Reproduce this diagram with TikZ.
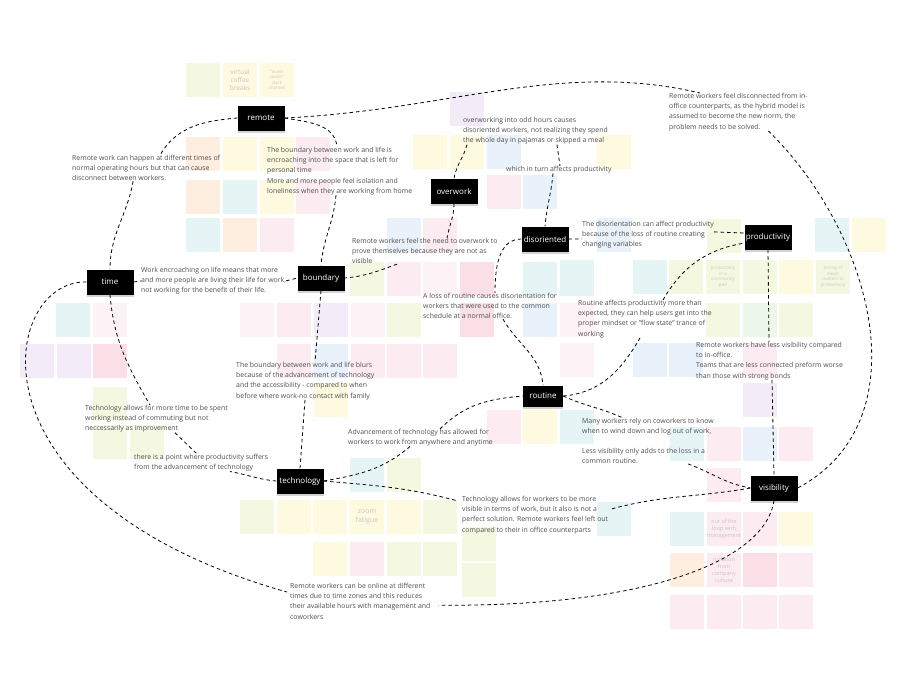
\documentclass[tikz,border=0pt]{standalone}
\usepackage{fontspec}
\setmainfont{Open Sans}
\usetikzlibrary{shadows}

\definecolor{txtgray}{RGB}{80,80,80}
\definecolor{yel}{RGB}{253,248,214}
\definecolor{ylg}{RGB}{241,246,214}
\definecolor{pnk}{RGB}{251,229,236}
\definecolor{pkl}{RGB}{253,238,242}
\definecolor{red}{RGB}{249,214,222}
\definecolor{org}{RGB}{253,232,212}
\definecolor{cyn}{RGB}{221,241,243}
\definecolor{blu}{RGB}{225,236,250}
\definecolor{prp}{RGB}{239,230,245}
\definecolor{grn}{RGB}{229,244,226}

\begin{document}
\begin{tikzpicture}[x=1pt,y=-1pt,
  tag/.style={fill=black,text=white,inner sep=0pt,minimum width=47pt,minimum height=25pt,font=\fontsize{8}{9}\selectfont,drop shadow={opacity=0.35,shadow xshift=0pt,shadow yshift=-2pt}},
  note/.style={anchor=north west,inner sep=0pt,align=left,text=txtgray,font=\fontsize{6.9}{10.2}\selectfont},
  link/.style={dash pattern=on 3.5pt off 3pt,line width=0.8pt},
  stick/.style={text=black!22,align=center,inner sep=0pt,font=\fontsize{4.5}{5.5}\selectfont}]

  \fill[white] (0,0) rectangle (916,686);
  \useasboundingbox (0,0) rectangle (916,686);

  % sticky notes
  \foreach \x/\y/\c in {186/63/ylg,223/63/yel,260/63/yel,
      186/137/org,223/137/yel,260/137/yel,296/137/pnk,186/180/org,223/180/cyn,260/180/yel,296/180/pnk,186/218/cyn,223/218/org,260/218/pnk,
      450/92/prp,413/135/yel,450/135/yel,487/135/blu,597/135/yel,487/175/pnk,523/175/blu,387/218/blu,423/218/pnk,597/218/blu,
      707/219/ylg,815/218/cyn,852/218/yel,
      560/260/cyn,633/260/cyn,669/260/ylg,706/260/ylg,743/260/ylg,779/260/yel,816/260/ylg,
      560/303/pkl,706/303/ylg,743/303/grn,779/303/ylg,560/343/pkl,633/343/blu,669/343/blu,743/343/pnk,743/383/prp,
      523/262/cyn,560/262/cyn,523/303/blu,487/410/pnk,523/410/yel,560/410/cyn,
      350/262/ylg,387/262/pnk,423/262/pkl,460/262/red,
      240/303/pkl,277/303/pnk,314/303/prp,351/303/pkl,387/303/ylg,460/303/red,
      277/344/pnk,314/344/blu,351/344/pnk,387/344/pnk,423/344/pnk,314/383/yel,
      56/303/cyn,93/303/pkl,20/344/prp,57/344/prp,93/344/red,93/387/ylg,93/425/ylg,130/425/ylg,
      350/458/cyn,387/458/ylg,
      240/500/ylg,277/500/yel,313/500/yel,350/500/yel,387/500/yel,423/500/ylg,
      313/542/yel,350/542/pnk,387/542/ylg,423/542/ylg,462/527/ylg,462/563/ylg,597/502/cyn,
      670/427/cyn,707/427/pnk,743/427/blu,779/427/pnk,707/468/pnk,
      670/512/cyn,707/512/pnk,743/512/pnk,779/512/yel,
      670/553/org,707/553/pnk,743/553/red,779/553/pnk,
      670/595/pnk,707/595/pnk,743/595/pnk,779/595/pnk}
    \fill[\c!75!white] (\x,\y) rectangle +(34,34);

  \node[stick,font=\fontsize{6.5}{8}\selectfont] (cvirt) at (240,80) {virtual\\coffee\\breaks};
  \node[stick] (cwater) at (277,80) {"water\\cooler"\\slack\\channel};
  \node[stick,font=\fontsize{7}{9}\selectfont] (czoom) at (367,517) {zoom\\fatigue};
  \node[stick,font=\fontsize{5.5}{7}\selectfont] (cloop) at (724,529) {out of the\\loop with\\management};
  \node[stick,font=\fontsize{5.5}{7}\selectfont] (ciso) at (724,570) {isolation\\from\\company\\culture};
  \node[stick] (cpod) at (723,277) {productivity\\in a\\community\\pod};
  \node[stick] (cmeals) at (833,277) {timing of\\meals\\matters to\\productivity};

  % themes
  \node[tag] (remote) at (261,118) {remote};
  \node[tag] (overwork) at (454,191) {overwork};
  \node[tag] (disoriented) at (545,239) {disoriented};
  \node[tag] (productivity) at (768,237) {productivity};
  \node[tag] (time) at (110,282) {time};
  \node[tag] (boundary) at (321,278) {boundary};
  \node[tag,minimum width=40pt,minimum height=21pt] (routine) at (543,396) {routine};
  \node[tag] (technology) at (300,481) {technology};
  \node[tag] (visibility) at (774,488) {visibility};

  % notes
  \node[note] (t1) at (72,155) {Remote work can happen at different times of\\normal operating hours but that can cause\\disconnect between workers.};
  \node[note] (t2) at (267,147) {The boundary between work and life is\\encroaching into the space that is left for\\personal time\\More and more people feel isolation and\\loneliness when they are working from home};
  \node[note] (t3) at (463,117) {overworking into odd hours causes\\disoriented workers, not realizing they spend\\the whole day in pajamas or skipped a meal};
  \node[note] (t4) at (506,166) {which in turn affects productivity};
  \node[note] (t5) at (669,93) {Remote workers feel disconnected from in-\\office counterparts, as the hybrid model is\\assumed to become the new norm, the\\problem needs to be solved.};
  \node[note] (t6) at (582,221) {The disorientation can affect productivity\\because of the loss of routine creating\\changing variables};
  \node[note] (t7) at (352,238) {Remote workers feel the need to overwork to\\prove themselves because they are not as\\visible};
  \node[note] (t8) at (141,267) {Work encroaching on life means that more\\and more people are living their life for work,\\not working for the benefit of their life.};
  \node[note] (t9) at (423,293) {A loss of routine causes disorientation for\\workers that were used to the common\\schedule at a normal office.};
  \node[note] (t10) at (578,300) {Routine affects productivity more than\\expected, they can help users get into the\\proper mindset or "flow state" trance of\\working};
  \node[note] (t11) at (696,342) {Remote workers have less visibility compared\\to in-office.\\Teams that are less connected preform worse\\than those with strong bonds};
  \node[note] (t12) at (236,362) {The boundary between work and life blurs\\because of the advancement of technology\\and the accessibility - compared to when\\before where work-no contact with family};
  \node[note] (t13) at (85,405) {Technology allows for more time to be spent\\working instead of commuting but not\\neccessarily as improvement};
  \node[note] (t14) at (134,454) {there is a point where productivity suffers\\from the advancement of technology};
  \node[note] (t15) at (348,429) {Advancement of technology has allowed for\\workers to work from anywhere and anytime};
  \node[note] (t16) at (582,418) {Many workers rely on coworkers to know\\when to wind down and log out of work,};
  \node[note] (t17) at (582,448) {Less visibility only adds to the loss in a\\common routine.};
  \node[note] (t18) at (462,496) {Technology allows for workers to be more\\visible in terms of work, but it also is not a\\perfect solution. Remote workers feel left out\\compared to their in office counterparts};
  \node[note] (t19) at (290,583) {Remote workers can be online at different\\times due to time zones and this reduces\\their available hours with management and\\coworkers};

  % links
  \draw[link] (remote.west) to[out=185,in=60] ([xshift=14pt]t1.north);
  \draw[link] ([xshift=-13pt]t1.south) to[out=-100,in=90] (time.north);
  \draw[link] (remote.east) .. controls (450,110) and (560,60) .. ([xshift=31pt]t5.north west);
  \draw[link] ([xshift=30pt]t5.south) .. controls (870,230) and (925,420) .. (visibility.east);
  \draw[link] (remote.east) to[out=-10,in=95] ([xshift=70pt]t2.north west);
  \draw[link] ([xshift=69pt]t2.south west) to[out=-95,in=85] (boundary.north);

  \draw[link] ([xshift=4pt]t3.south west) to[out=-105,in=80] (overwork.north);
  \draw[link] (overwork.south) to[out=-90,in=80] ([xshift=95pt]t7.north west);
  \draw[link] ([xshift=45pt]t7.south west) to[out=200,in=5] (boundary.east);
  \draw[link] ([xshift=94pt]t3.south west) -- ([xshift=54pt]t4.north west);
  \draw[link] ([xshift=47pt]t4.south west) to[out=-95,in=85] (disoriented.north);

  \draw[link] (disoriented.east) -- ([yshift=-4pt]t6.west);
  \draw[link] ([yshift=3pt]t6.east) -- ([yshift=4pt]productivity.west);
  \draw[link] (disoriented.west) to[out=180,in=90] ([xshift=72pt]t9.north west);
  \draw[link] ([xshift=80pt]t9.south west) to[out=-60,in=95] (routine.north);
  \draw[link] (routine.east) to[out=5,in=-120] ([xshift=62pt]t10.south west);
  \draw[link] ([xshift=85pt]t10.north west) to[out=60,in=190] ([yshift=-6pt]productivity.west);
  \draw[link] (productivity.south) -- ([xshift=73pt]t11.north west);
  \draw[link] ([xshift=76pt]t11.south west) -- (visibility.north);

  \draw[link] (visibility.south) .. controls (765,560) and (650,607) .. ([xshift=8pt,yshift=-4pt]t19.east);
  \draw[link] (routine.east) to[out=-25,in=155] ([xshift=41pt]t16.north west);
  \draw[link] ([xshift=-17pt]t17.south east) to[out=-20,in=170] (visibility.west);
  \draw[link] (visibility.west) to[out=190,in=15] ([xshift=3pt,yshift=6pt]t18.east);

  \draw[link] (technology.east) to[out=-5,in=165] ([xshift=-4pt,yshift=-5pt]t18.north west);
  \draw[link] (technology.east) to[out=10,in=-140] ([xshift=62pt]t15.south west);
  \draw[link] ([xshift=92pt]t15.north west) to[out=45,in=185] (routine.west);
  \draw[link] (technology.north) -- ([xshift=69pt]t12.south west);
  \draw[link] (boundary.south) -- ([xshift=79pt]t12.north west);
  \draw[link] (technology.west) to[out=175,in=-10] ([xshift=96pt]t14.south west);
  \draw[link] ([xshift=90pt]t13.south west) -- ([xshift=63pt]t14.north west);

  \draw[link] (time.south) to[out=-85,in=120] ([xshift=65pt]t13.north west);
  \draw[link] (time.west) .. controls (0,280) and (-40,500) .. ([xshift=-3pt,yshift=-9pt]t19.north west);
  \draw[link] (time.east) -- (t8.west);
  \draw[link] (t8.east) -- (boundary.west);

\end{tikzpicture}
\end{document}
